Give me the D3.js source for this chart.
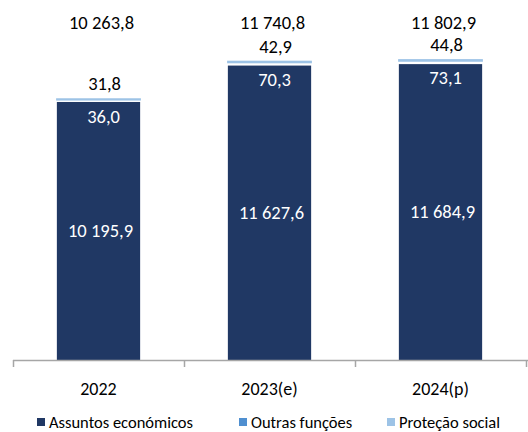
<!DOCTYPE html>
<html>
<head>
<meta charset="utf-8">
<script src="https://cdn.jsdelivr.net/npm/d3@7/dist/d3.min.js"></script>
<style>
  html, body { margin: 0; padding: 0; background: #fff; }
  svg { display: block; font-family: Carlito, Lato, "Liberation Sans", sans-serif; }
</style>
</head>
<body>
<svg id="chart" width="528" height="432"></svg>
<script>
const categories = ["2022", "2023(e)", "2024(p)"];
const seriesNames = ["Assuntos económicos", "Outras funções", "Proteção social"];
const assuntos = [10195.9, 11627.6, 11684.9];
const outras = [36.0, 70.3, 73.1];
const protecao = [31.8, 42.9, 44.8];
const totals = [10263.8, 11740.8, 11802.9];

const colors = ["#203864", "#4f8fd0", "#9dc3e6"];

const svg = d3.select("#chart");
const W = 528, H = 432;
const margin = { left: 13, right: 2, top: 4, bottom: 72 };
const baseY = H - margin.bottom; // 360

const rows = categories.map((c, i) => ({
  cat: c,
  "Assuntos económicos": assuntos[i],
  "Outras funções": outras[i],
  "Proteção social": protecao[i],
  total: totals[i]
}));

const x = d3.scaleBand().domain(categories).range([margin.left, W - margin.right]).padding(0);
const barW = x.bandwidth() * 0.487;
const y = d3.scaleLinear().domain([0, 14000]).range([baseY, margin.top]);

const stack = d3.stack().keys(seriesNames);
const stacked = stack(rows);

const loc = d3.formatLocale({ decimal: ",", thousands: "\u00a0", grouping: [3], currency: ["", ""] });
const fmt = loc.format(",.1f");

// bars
const strokeW = [0, 2.5, 1.5];
const strokeC = ["none", "#ffffff", colors[2]];
stacked.forEach((layer, si) => {
  svg.append("g").selectAll("rect").data(layer).enter().append("rect")
    .attr("x", d => x(d.data.cat) + (x.bandwidth() - barW) / 2)
    .attr("width", barW)
    .attr("y", d => y(d[1]))
    .attr("height", d => y(d[0]) - y(d[1]))
    .attr("fill", colors[si])
    .attr("stroke", strokeC[si])
    .attr("stroke-width", strokeW[si]);
});

const cx = c => x(c) + x.bandwidth() / 2;
const fontSize = 18.5;

// Assuntos labels (centered, white)
svg.append("g").selectAll("text").data(stacked[0]).enter().append("text")
  .attr("x", d => cx(d.data.cat) + 2)
  .attr("y", d => (y(d[0]) + y(d[1])) / 2)
  .attr("dy", "0.35em")
  .attr("text-anchor", "middle")
  .attr("fill", "#ffffff")
  .attr("font-size", fontSize)
  .text(d => fmt(d[1] - d[0]));

// Outras labels (inside dark bar, white)
svg.append("g").selectAll("text").data(stacked[1]).enter().append("text")
  .attr("x", d => cx(d.data.cat) + 5)
  .attr("y", d => y(d[1]) + 17)
  .attr("dy", "0.35em")
  .attr("text-anchor", "middle")
  .attr("fill", "#ffffff")
  .attr("font-size", fontSize)
  .text(d => fmt(d[1] - d[0]));

// Proteção labels (above, black)
svg.append("g").selectAll("text").data(stacked[2]).enter().append("text")
  .attr("x", d => cx(d.data.cat) + 6)
  .attr("y", d => y(d[1]) - 15)
  .attr("dy", "0.35em")
  .attr("text-anchor", "middle")
  .attr("fill", "#000000")
  .attr("font-size", fontSize)
  .text(d => fmt(d[1] - d[0]));

// Totals (top row)
svg.append("g").selectAll("text").data(rows).enter().append("text")
  .attr("x", d => cx(d.cat) + 3)
  .attr("y", 23)
  .attr("dy", "0.35em")
  .attr("text-anchor", "middle")
  .attr("fill", "#000000")
  .attr("font-size", fontSize)
  .text(d => fmt(d.total));

// x axis
const axisG = svg.append("g");
axisG.append("line")
  .attr("x1", margin.left).attr("x2", W)
  .attr("y1", baseY + 0.5).attr("y2", baseY + 0.5)
  .attr("stroke", "#a6a6a6").attr("stroke-width", 1.5);
const bounds = categories.map(c => x(c)).concat([x(categories[categories.length - 1]) + x.step()]);
axisG.selectAll("line.tick").data(bounds).enter().append("line")
  .attr("class", "tick")
  .attr("x1", d => Math.round(d) + 0.5).attr("x2", d => Math.round(d) + 0.5)
  .attr("y1", baseY).attr("y2", baseY + 7)
  .attr("stroke", "#a6a6a6").attr("stroke-width", 1.5);
axisG.selectAll("text").data(categories).enter().append("text")
  .attr("x", d => cx(d))
  .attr("y", baseY + 28.5)
  .attr("dy", "0.35em")
  .attr("text-anchor", "middle")
  .attr("fill", "#000")
  .attr("font-size", 18)
  .text(d => d);

// legend
const legX = [37, 239, 387];
const leg = svg.append("g");
seriesNames.forEach((n, i) => {
  leg.append("rect")
    .attr("x", legX[i]).attr("y", 418).attr("width", 8).attr("height", 8)
    .attr("fill", colors[i]);
  leg.append("text")
    .attr("x", legX[i] + 12).attr("y", 422)
    .attr("dy", "0.35em")
    .attr("fill", "#000")
    .attr("font-size", 16.5)
    .text(n);
});
</script>
</body>
</html>
